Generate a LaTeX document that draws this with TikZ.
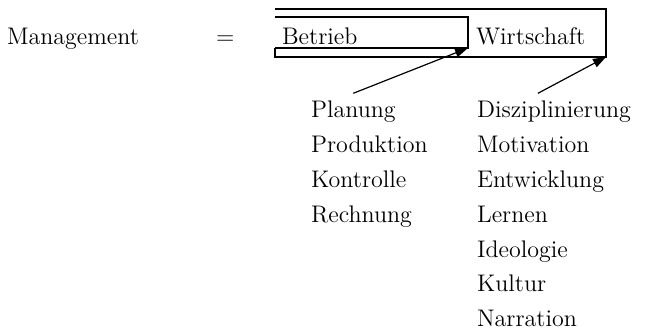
\documentclass[tikz,border=0pt]{standalone}
\usetikzlibrary{matrix,arrows.meta,positioning}

\tikzset{
  pfeil/.style={line width=0.6pt,-{Triangle[length=6.5pt,width=4.5pt]}},
  kasten/.style={line width=0.6pt},
}

\begin{document}
\begin{tikzpicture}[x=0.5pt,y=-0.5pt,font=\fontsize{12}{14}\selectfont]
\useasboundingbox (0,0) rectangle (645,332);

% Header
\node[anchor=base west] (mgmt) at (0,45) {Management};
\node[anchor=base west] (gleich) at (209,45) {$=$};
\node[anchor=base west] (betrieb) at (275,45) {Betrieb};
\node[anchor=base west] (wirtschaft) at (469,45) {Wirtschaft};

% Boxes
\draw[kasten] (275,48) -- (275,57) -- (606,57) -- (606,9) -- (275,9);
\draw[kasten] (275,17) -- (468,17) -- (468,48) -- (275,48);
\coordinate (betriebEcke) at (468,48);
\coordinate (wirtschaftEcke) at (606,57);

\matrix (m)[matrix of nodes, column sep={83pt,between origins}, row sep={17.5pt,between origins}, nodes={anchor=base west}, matrix anchor=m-1-1.base west] at (304,117) {
Planung & Disziplinierung \\
Produktion & Motivation \\
Kontrolle & Entwicklung \\
Rechnung & Lernen \\
& Ideologie \\
& Kultur \\
& Narration \\
};

% Arrows
\draw[pfeil] (m-1-1.north) -- (betriebEcke);
\draw[pfeil] ([xshift=-8pt]m-1-2.north) -- (wirtschaftEcke);

\end{tikzpicture}
\end{document}
